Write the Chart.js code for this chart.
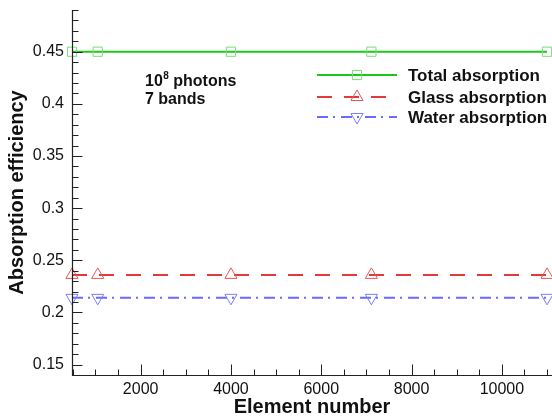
<!DOCTYPE html>
<html>
<head>
<meta charset="utf-8">
<script src="https://cdn.jsdelivr.net/npm/chart.js@4/dist/chart.umd.min.js"></script>
<style>
  html, body { margin: 0; padding: 0; background: #fff; }
  #wrap { width: 552px; height: 419px; }
</style>
</head>
<body>
<div id="wrap"><canvas id="absChart" width="552" height="419"></canvas></div>
<script>
// data
const elementCounts = [480, 1050, 4000, 7110, 11000];
const totalAbsorption = [0.45, 0.45, 0.45, 0.45, 0.45];
const glassAbsorption = [0.236, 0.236, 0.236, 0.236, 0.236];
const waterAbsorption = [0.214, 0.214, 0.214, 0.214, 0.214];
const seriesLabels = ['Total absorption', 'Glass absorption', 'Water absorption'];
const xTickLabels = [2000, 4000, 6000, 8000, 10000];
const yTickLabels = [0.15, 0.2, 0.25, 0.3, 0.35, 0.4, 0.45];
const noteLines = ['10', '8', ' photons', '7 bands'];

const FONT = "'Liberation Sans', Arial, sans-serif";

// minor ticks: every 500 elements, every 0.01 efficiency
const xTicks = [];
for (let v = 500; v <= 11000; v += 500) xTicks.push(v);
const yTicks = [];
for (let c = 15; c <= 49; c++) yTicks.push(c / 100);

function toPoints(ys) {
    return elementCounts.map((x, i) => ({ x: x, y: ys[i] }));
}

function isXMajor(v) { return xTickLabels.includes(v); }
function isYMajor(v) { return yTickLabels.some(l => Math.abs(l - v) < 1e-6); }

// axis lines + inward ticks (major/minor)
const axisTicks = {
    id: 'axisTicks',
    afterDatasetsDraw(chart) {
        const { ctx, chartArea: a, scales } = chart;
        const left = Math.round(a.left) + 0.5, bottom = Math.round(a.bottom) + 0.5;
        ctx.save();
        ctx.strokeStyle = '#222';
        ctx.lineWidth = 1.2;
        ctx.beginPath();
        ctx.moveTo(left, a.top);
        ctx.lineTo(left, bottom);
        ctx.lineTo(a.right, bottom);
        ctx.stroke();
        ctx.lineWidth = 1;
        ctx.beginPath();
        scales.x.ticks.forEach(t => {
            const px = Math.round(scales.x.getPixelForValue(t.value)) + 0.5;
            const len = isXMajor(t.value) ? 11 : 6;
            ctx.moveTo(px, bottom);
            ctx.lineTo(px, bottom - len);
        });
        scales.y.ticks.forEach(t => {
            const py = Math.round(scales.y.getPixelForValue(t.value)) + 0.5;
            const len = isYMajor(t.value) ? 10 : 6;
            ctx.moveTo(left, py);
            ctx.lineTo(left + len, py);
        });
        ctx.stroke();
        ctx.restore();
    }
};

// legend with line sample and marker in the middle, plus the note text
const lineLegend = {
    id: 'lineLegend',
    afterDraw(chart) {
        const ctx = chart.ctx;
        const x0 = 317, x1 = 397, tx = 408;
        const rows = [75, 97, 117];
        ctx.save();
        chart.data.datasets.forEach((ds, i) => {
            const y = rows[i];
            ctx.strokeStyle = ds.borderColor;
            ctx.lineWidth = ds.borderWidth;
            ctx.setLineDash(ds.borderDash || []);
            ctx.beginPath();
            ctx.moveTo(x0, y);
            ctx.lineTo(x1, y);
            ctx.stroke();
            ctx.setLineDash([]);
            ctx.lineWidth = ds.pointBorderWidth;
            ctx.strokeStyle = ds.pointBorderColor;
            ctx.fillStyle = 'rgba(0,0,0,0)';
            Chart.helpers.drawPoint(ctx, {
                pointStyle: ds.pointStyle,
                rotation: ds.pointRotation || 0,
                radius: ds.pointRadius,
                borderWidth: ds.pointBorderWidth
            }, (x0 + x1) / 2, y);
            ctx.fillStyle = '#111';
            ctx.font = 'bold 17px ' + FONT;
            ctx.textBaseline = 'middle';
            ctx.fillText(ds.label, tx, y + 1);
        });
        ctx.fillStyle = '#111';
        ctx.textBaseline = 'alphabetic';
        ctx.font = 'bold 16px ' + FONT;
        let x = 145;
        ctx.fillText(noteLines[0], x, 86);
        x += ctx.measureText(noteLines[0]).width;
        ctx.font = 'bold 10px ' + FONT;
        ctx.fillText(noteLines[1], x + 0.5, 79);
        x += ctx.measureText(noteLines[1]).width + 0.5;
        ctx.font = 'bold 16px ' + FONT;
        ctx.fillText(noteLines[2], x, 86);
        ctx.fillText(noteLines[3], 145, 104);
        ctx.restore();
    }
};

new Chart('absChart', {
    type: 'line',
    data: {
        datasets: [{
            label: seriesLabels[0],
            data: toPoints(totalAbsorption),
            borderColor: '#19c819',
            borderWidth: 2,
            pointStyle: 'rect',
            pointRadius: 6.5,
            pointBorderWidth: 1,
            pointBorderColor: '#78dc78',
            pointBackgroundColor: 'rgba(0,0,0,0)',
            clip: false
        }, {
            label: seriesLabels[1],
            data: toPoints(glassAbsorption),
            borderColor: '#e23a3a',
            borderWidth: 2,
            borderDash: [15, 12],
            pointStyle: 'triangle',
            pointRadius: 7,
            pointBorderWidth: 1,
            pointBorderColor: '#e65656',
            pointBackgroundColor: 'rgba(0,0,0,0)',
            clip: false
        }, {
            label: seriesLabels[2],
            data: toPoints(waterAbsorption),
            borderColor: '#6a6aff',
            borderWidth: 2,
            borderDash: [11, 5, 2, 6],
            pointStyle: 'triangle',
            pointRotation: 180,
            pointRadius: 7,
            pointBorderWidth: 1,
            pointBorderColor: '#7c7cff',
            pointBackgroundColor: 'rgba(0,0,0,0)',
            clip: false
        }]
    },
    options: {
        responsive: false,
        devicePixelRatio: 1,
        animation: false,
        layout: { autoPadding: false, padding: { top: 10, left: 0, right: 0, bottom: 0 } },
        plugins: { legend: { display: false }, tooltip: { enabled: false } },
        scales: {
            x: {
                type: 'linear',
                min: 480,
                max: 11110,
                border: { display: false },
                grid: { display: false, drawTicks: false },
                ticks: {
                    autoSkip: false,
                    maxRotation: 0,
                    padding: 5,
                    color: '#111',
                    font: { family: FONT, size: 16 },
                    callback: v => (isXMajor(v) ? String(v) : '')
                },
                afterBuildTicks: s => { s.ticks = xTicks.map(v => ({ value: v })); },
                title: {
                    display: true,
                    text: 'Element number',
                    color: '#111',
                    font: { family: FONT, size: 20, weight: 'bold' },
                    padding: { top: 0, bottom: 0 }
                },
                afterFit: s => { s.height = 44; s.paddingLeft = 0; s.paddingRight = 0; }
            },
            y: {
                min: 0.14,
                max: 0.49,
                border: { display: false },
                grid: { display: false, drawTicks: false },
                ticks: {
                    autoSkip: false,
                    padding: 8,
                    color: '#111',
                    font: { family: FONT, size: 16 },
                    callback: v => (isYMajor(v) ? String(Math.round(v * 100) / 100) : '')
                },
                afterBuildTicks: s => { s.ticks = yTicks.map(v => ({ value: v })); },
                title: {
                    display: true,
                    text: 'Absorption efficiency',
                    color: '#111',
                    font: { family: FONT, size: 20, weight: 'bold' },
                    padding: { top: 5, bottom: 0 }
                },
                afterFit: s => { s.width = 72; s.paddingTop = 0; s.paddingBottom = 0; }
            }
        }
    },
    plugins: [axisTicks, lineLegend]
});
</script>
</body>
</html>
